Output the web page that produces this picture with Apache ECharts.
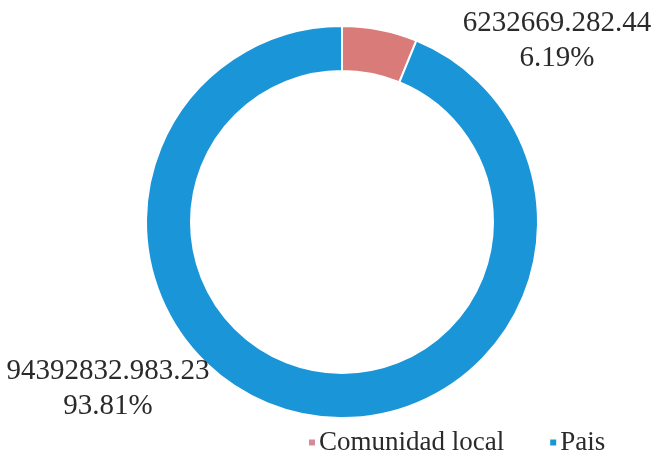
<!DOCTYPE html>
<html>
<head>
<meta charset="utf-8">
<script src="https://cdn.jsdelivr.net/npm/echarts@6/dist/echarts.min.js"></script>
<style>
  html, body { margin: 0; padding: 0; background: #fff; }
  #chart { width: 658px; height: 459px; }
</style>
</head>
<body>
<div id="chart"></div>
<script>
// Distribution of amounts by destination
const categories = ['Comunidad local', 'Pais'];
const amounts = [6232669282.44, 94392832983.23];
const colors = ['#d97b79', '#1a95d7'];
const legendColors = ['#d88a98', '#1a95d7'];

// Amount text: thousands group before the last three digits, then cents
function formatAmount(v) {
  const whole = Math.floor(v);
  const cents = Math.round((v - whole) * 100);
  const head = Math.floor(whole / 1000);
  const tail = String(whole % 1000).padStart(3, '0');
  return head + '.' + tail + '.' + String(cents).padStart(2, '0');
}

// Where each label block sits (centre of the two-line block)
const labelSpots = [
  { x: 557, y: 41 },
  { x: 108, y: 389 }
];

const serif = '"Liberation Serif", "Times New Roman", serif';

const chart = echarts.init(document.getElementById('chart'), null, { renderer: 'canvas' });
chart.setOption({
  animation: false,
  backgroundColor: '#ffffff',
  legend: {
    data: categories.map((name, i) => ({ name, itemStyle: { color: legendColors[i] } })),
    left: 302,
    top: 424,
    icon: 'rect',
    itemWidth: 8,
    itemHeight: 8,
    itemGap: 44,
    textStyle: { fontFamily: serif, fontSize: 27, color: '#2a2a2a', padding: [0, 0, 0, -2] }
  },
  series: [{
    type: 'pie',
    center: [342, 222],
    radius: [151, 196],
    startAngle: 90,
    clockwise: true,
    itemStyle: { borderColor: '#ffffff', borderWidth: 2 },
    label: {
      show: true,
      position: 'outside',
      formatter: p => '{a|' + formatAmount(p.value) + '}\n{a|' + p.percent.toFixed(2) + '%}',
      rich: {
        a: { fontFamily: serif, fontSize: 29, lineHeight: 35, color: '#2a2a2a', align: 'center' }
      }
    },
    labelLine: { show: false },
    labelLayout: p => ({
      x: labelSpots[p.dataIndex].x,
      y: labelSpots[p.dataIndex].y,
      align: 'center',
      verticalAlign: 'middle',
      hideOverlap: false
    }),
    emphasis: { disabled: true },
    data: categories.map((name, i) => ({
      name,
      value: amounts[i],
      itemStyle: { color: colors[i] }
    }))
  }]
});
</script>
</body>
</html>
